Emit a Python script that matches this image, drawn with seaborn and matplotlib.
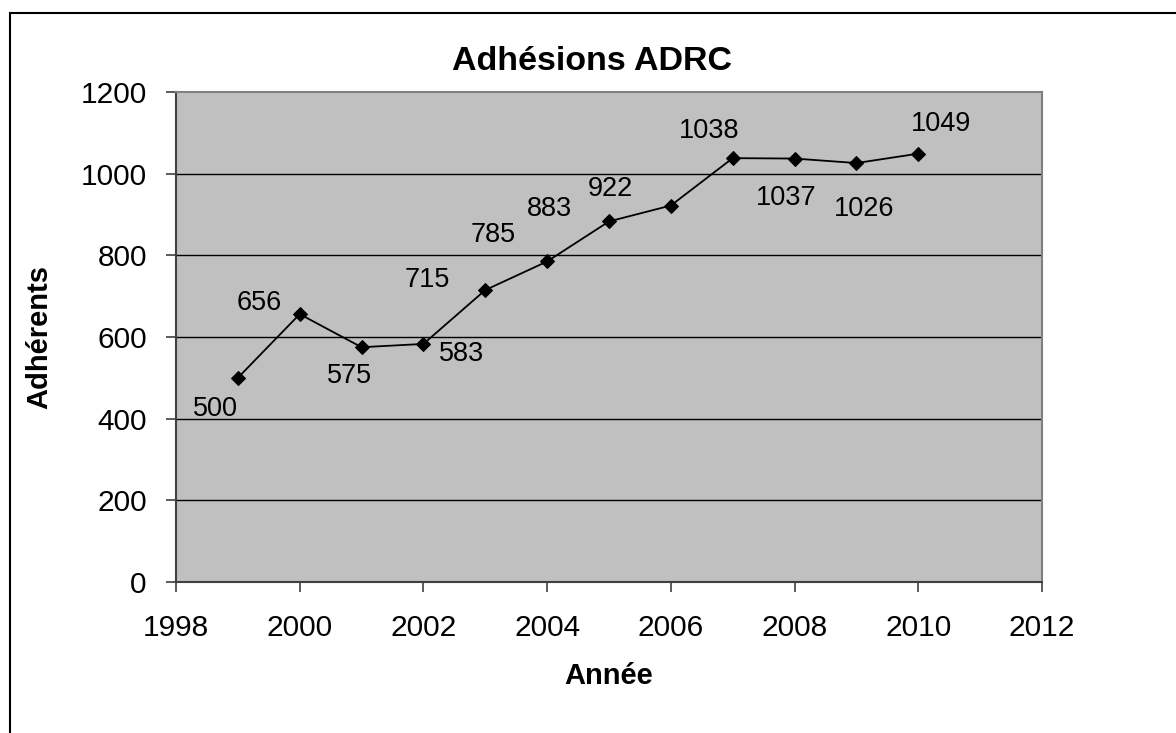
import pandas as pd
import numpy as np
import seaborn as sns
import matplotlib.pyplot as plt
from matplotlib.patches import Rectangle

annees = [1999, 2000, 2001, 2002, 2003, 2004, 2005, 2006, 2007, 2008, 2009, 2010]
adherents = [500, 656, 575, 583, 715, 785, 883, 922, 1038, 1037, 1026, 1049]
# label offsets in pixels (Excel placed them by hand)
offsets = [(-22, -31), (-40, 11), (-12, -29), (38, -10), (-58, 10), (-54, 26),
           (-60, 12), (-60, 17), (-24, 27), (-8, -39), (8, -46), (23, 30)]

df = pd.DataFrame({"Année": annees, "Adhérents": adherents})

sns.set_style("white")
plt.rcParams['font.family'] = ['Liberation Sans', 'DejaVu Sans']
plt.rcParams['text.color'] = 'black'
plt.rcParams['axes.labelcolor'] = 'black'

fig = plt.figure(figsize=(11.76, 7.33), dpi=100)
ax = fig.add_axes([176/1176, 151/733, 866/1176, 490/733])
ax.set_facecolor("#C0C0C0")

# outer chart border
fig.patches.append(Rectangle((10/1176, -0.05), 1.1, (733-13)/733 + 0.05,
                             transform=fig.transFigure, fill=False,
                             edgecolor="black", linewidth=1.5))

for y in [200, 400, 600, 800, 1000]:
    ax.axhline(y, color="black", linewidth=1, zorder=1)

sns.lineplot(data=df, x="Année", y="Adhérents", ax=ax, color="black",
             marker="D", markersize=7, linewidth=1.3, markeredgecolor="black", zorder=3)

for x, y, (dx, dy) in zip(annees, adherents, offsets):
    ax.annotate(str(y), (x, y), xytext=(dx*0.72, dy*0.72), textcoords="offset points",
                ha="center", va="center", fontsize=19.5, color="black")

ax.set_xlim(1998, 2012)
ax.set_ylim(0, 1200)
ax.set_xticks(range(1998, 2013, 2))
ax.set_yticks(range(0, 1201, 200))
ax.tick_params(axis="both", labelsize=21.5, length=7, width=1.2, color="#404040",
               labelcolor="black", direction="out", left=True, bottom=True)
ax.tick_params(axis="x", pad=16)
ax.tick_params(axis="y", pad=14)

for s in ["left", "bottom"]:
    ax.spines[s].set_color("#404040")
    ax.spines[s].set_linewidth(1.5)
for s in ["top", "right"]:
    ax.spines[s].set_color("#808080")
    ax.spines[s].set_linewidth(1.5)

ax.set_xlabel("Année", fontsize=21, fontweight="bold")
ax.set_ylabel("Adhérents", fontsize=21, fontweight="bold")
ax.xaxis.set_label_coords(0.5, -(676 - 582) / 490, transform=ax.transAxes)
ax.yaxis.set_label_coords(-(176 - 39) / 866, 0.5, transform=ax.transAxes)
ax.xaxis.label.set_va("center")
ax.yaxis.label.set_va("center")
fig.text(592/1176, 1 - 62/733, "Adhésions ADRC", fontsize=24.5, fontweight="bold",
         ha="center", va="center")

plt.savefig("out.png", dpi=100)
